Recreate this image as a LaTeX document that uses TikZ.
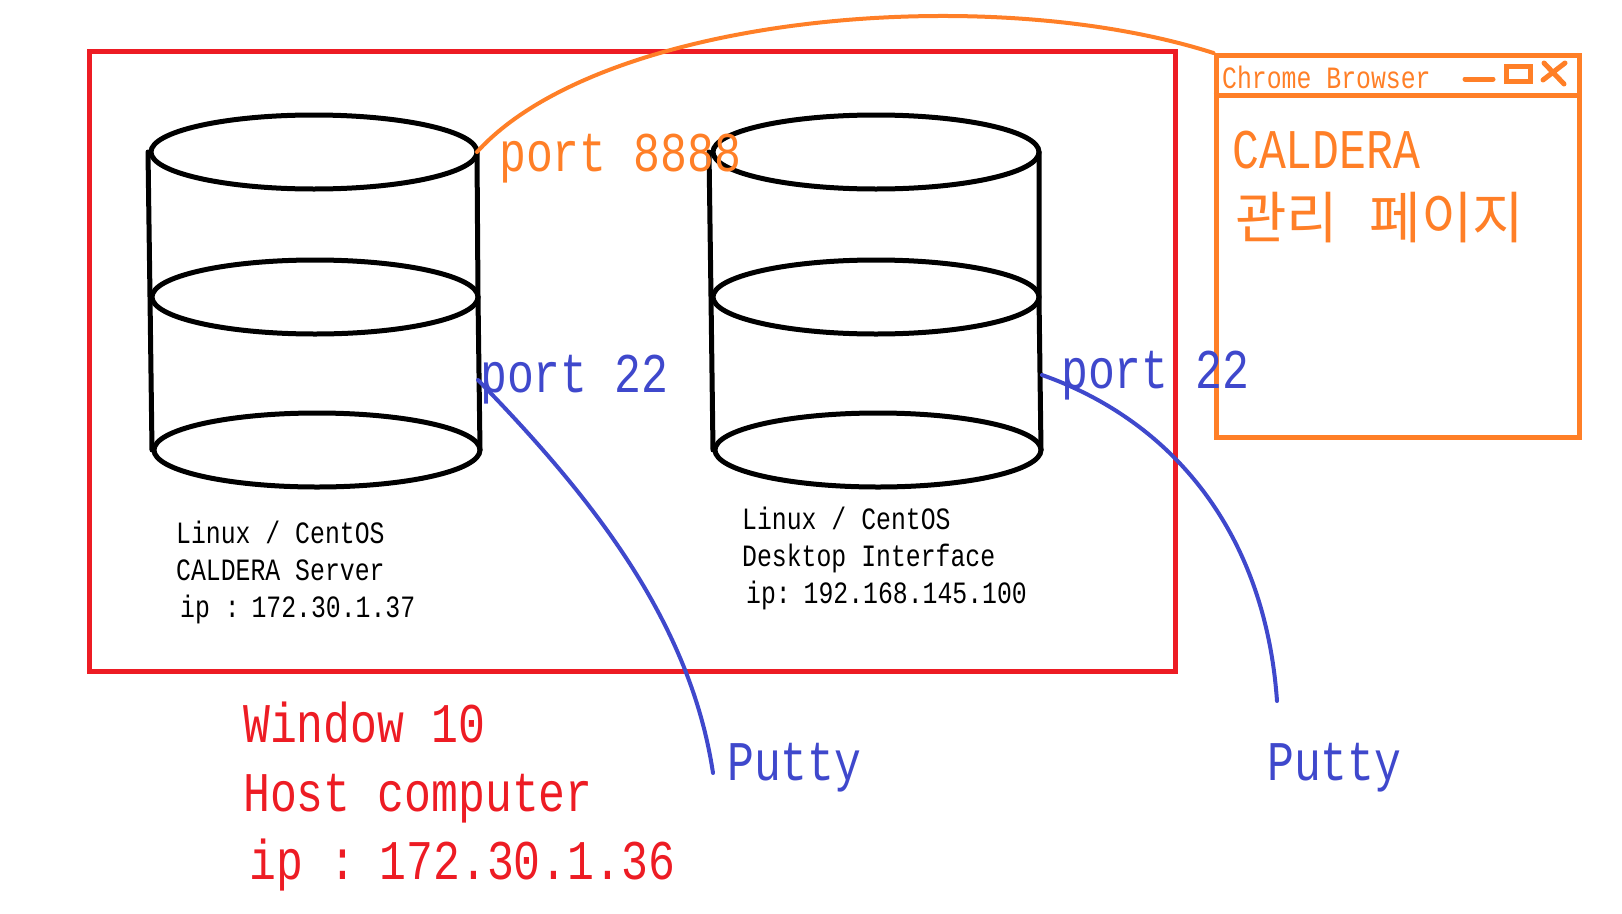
\documentclass[tikz,border=0pt]{standalone}
\usepackage{fontspec}
\usetikzlibrary{shapes.geometric}
\newfontfamily\monofam[FakeStretch=.8]{Liberation Mono}
\newfontfamily\krfam{Noto Sans CJK KR}
\definecolor{hostred}{HTML}{ED1C24}
\definecolor{webor}{HTML}{FF7F27}
\definecolor{sshblue}{HTML}{3F48CC}
\tikzset{
	disc/.style={draw,ellipse,line width=5pt,minimum width=326pt,minimum height=74pt,inner sep=0pt,outer sep=0pt},
	side/.style={line width=5pt,line cap=round},
	big/.style={anchor=base west,inner sep=0pt,font=\monofam\fontsize{56}{56}\selectfont},
	small/.style={anchor=base west,inner sep=0pt,text=black,font=\monofam\fontsize{31}{31}\selectfont},
	wire/.style={line width=4pt,line cap=round}
}
\begin{document}
\begin{tikzpicture}[x=1pt,y=-1pt]
	\useasboundingbox(0,0)rectangle(1622,913);
	\node[draw=hostred,line width=5pt,minimum width=1086pt,minimum height=620pt,inner sep=0pt,anchor=north west](host)at(86.5,48.5){};
	\node[draw=webor,line width=5pt,minimum width=363pt,minimum height=382pt,inner sep=0pt,anchor=north west](browser)at(1213.5,53){};
	\draw[webor,line width=5pt](browser.west|-0,95)--(browser.east|-0,95);
	% cylinders
	\node[disc](srvtop)at(314,152){};
	\node[disc](srvmid)at(315,297){};
	\node[disc](srvbot)at(317,450){};
	\node[disc](desktop)at(876,152){};
	\node[disc](deskmid)at(876,297){};
	\node[disc](deskbot)at(878,450){};
	\draw[side]([xshift=-3pt]srvtop.west)--([xshift=-2pt]srvmid.west)--([xshift=-2pt]srvbot.west);
	\draw[side](srvtop.east)--(srvmid.east)--(srvbot.east);
	\draw[side]([xshift=-4pt]desktop.west)--([xshift=-2pt]deskmid.west)--([xshift=-2pt]deskbot.west);
	\draw[side](desktop.east)--(deskmid.east)--(deskbot.east);
	% window buttons
	\coordinate(minl)at(1465,79);
	\coordinate(minr)at(1493,79);
	\coordinate(xa)at(1544,63);
	\coordinate(xb)at(1564,84);
	\coordinate(xc)at(1565,63);
	\coordinate(xd)at(1543,80);
	\draw[webor,wire,line width=5pt](minl)--(minr);
	\node[draw=webor,line width=5pt,minimum width=24pt,minimum height=15pt,inner sep=0pt](maxbox)at(1518,74){};
	\draw[webor,wire,line width=5pt](xa)--(xb) (xc)--(xd);
	% connectors
	\coordinate(srvport)at(478,380);
	\coordinate(srvputty)at(713,773);
	\coordinate(deskport)at(1042,375);
	\coordinate(deskputty)at(1277,701);
	\draw[webor,wire](srvtop.east)..controls(600,16)and(985,-20)..(browser.north west);
	\draw[sshblue,wire](srvport)..controls(590,495)and(690,620)..(srvputty);
	\draw[sshblue,wire](deskport)..controls(1170,420)and(1265,530)..(deskputty);
	% labels
	\node[big,text=webor](port8888)at(499,171){port 8888};
	\node[big,text=sshblue](srv22)at(480,392){port 22};
	\node[big,text=sshblue](desk22)at(1061,388){port 22};
	\node[big,text=sshblue](srvtty)at(727,780){Putty};
	\node[big,text=sshblue](desktty)at(1267,780){Putty};
	\node[big,text=hostred](hosta)at(243,742){Window 10};
	\node[big,text=hostred](hostb)at(243,811){Host computer};
	\node[big,text=hostred](hostc)at(249,879){ip :\kern-13pt{} 172.30.1.36};
	\node[small](srva)at(176,543){Linux / CentOS};
	\node[small](srvb)at(176,580){CALDERA Server};
	\node[small](srvc)at(180,617){ip :\kern-8pt{} 172.30.1.37};
	\node[small](deska)at(742,529){Linux / CentOS};
	\node[small](deskb)at(742,566){Desktop Interface};
	\node[small](deskc)at(746,603){ip:\kern-7pt{} 192.168.145.100};
	\node[small,text=webor](title)at(1222,88){Chrome Browser};
	\node[big,text=webor](caldera)at(1232,168){CALDERA};
	\node[anchor=base west,inner sep=0pt,text=webor,font=\krfam\fontsize{56}{56}\selectfont](manage)at(1235,238){관리\kern19pt{} 페이지};
\end{tikzpicture}
\end{document}
